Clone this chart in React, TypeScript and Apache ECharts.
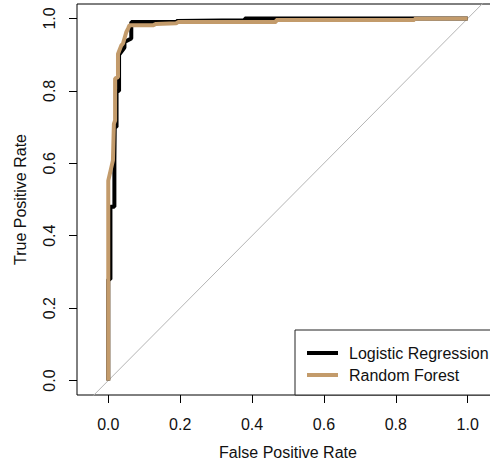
import React, { useEffect, useRef } from "react";
import * as echarts from "echarts";

// Logistic Regression ROC curve (false positive rate, true positive rate)
const fprLR = [0, 0, 0.006, 0.006, 0.017, 0.017, 0.018, 0.023, 0.023, 0.03, 0.03, 0.045, 0.045, 0.064, 0.064, 0.19, 0.19, 0.38, 0.38, 1.0];
const tprLR = [0, 0.28, 0.28, 0.48, 0.48, 0.61, 0.70, 0.70, 0.80, 0.80, 0.90, 0.92, 0.935, 0.945, 0.99, 0.99, 0.993, 0.995, 1.0, 1.0];

// Random Forest ROC curve
const fprRF = [0, 0, 0.013, 0.0156, 0.019, 0.019, 0.027, 0.027, 0.036, 0.041, 0.05, 0.055, 0.059, 0.124, 0.133, 0.189, 0.194, 0.467, 0.467, 0.852, 0.852, 1.0];
const tprRF = [0, 0.552, 0.608, 0.709, 0.718, 0.834, 0.838, 0.902, 0.925, 0.931, 0.962, 0.972, 0.981, 0.981, 0.985, 0.987, 0.99, 0.99, 0.996, 0.996, 0.999, 1.0];

// Chance diagonal (y = x)
const diagX = [-0.2, 1.2];

const tickValues = [0, 0.2, 0.4, 0.6, 0.8, 1.0];
const seriesNames = ["Logistic Regression", "Random Forest"];

const FONT = "'Liberation Sans', Arial, sans-serif";
const TEXT = "#111";

export default function App() {
  const ref = useRef<HTMLDivElement>(null);

  useEffect(() => {
    if (!ref.current) return;
    const chart = echarts.init(ref.current, null, { renderer: "svg" });
    const lr = fprLR.map((x, i) => [x, tprLR[i]]);
    const rf = fprRF.map((x, i) => [x, tprRF[i]]);
    const diag = diagX.map((x) => [x, x]);

    chart.setOption({
      animation: false,
      backgroundColor: "#fff",
      textStyle: { fontFamily: FONT },
      grid: {
        left: 77,
        top: 4,
        width: 422,
        height: 391,
        outerBoundsMode: "none",
        containLabel: false,
        show: true,
        borderColor: "#000",
        borderWidth: 1,
        backgroundColor: "transparent",
      },
      xAxis: {
        type: "value",
        min: -0.087,
        max: 1.087,
        name: "False Positive Rate",
        nameLocation: "middle",
        nameGap: 49,
        nameTextStyle: { fontSize: 16, color: TEXT, fontFamily: FONT },
        axisLine: { show: false, onZero: false },
        axisTick: {
          show: true,
          inside: false,
          length: 8,
          customValues: tickValues,
          lineStyle: { color: "#000", width: 1 },
        },
        axisLabel: {
          customValues: tickValues,
          margin: 21,
          fontSize: 16,
          color: TEXT,
          fontFamily: FONT,
          formatter: (v: number) => v.toFixed(1),
        },
        splitLine: { show: false },
      },
      yAxis: {
        type: "value",
        min: -0.04,
        max: 1.04,
        name: "True Positive Rate",
        nameLocation: "middle",
        nameRotate: 90,
        nameGap: 49,
        nameTextStyle: { fontSize: 16, color: TEXT, fontFamily: FONT },
        axisLine: { show: false, onZero: false },
        axisTick: {
          show: true,
          inside: false,
          length: 8,
          customValues: tickValues,
          lineStyle: { color: "#000", width: 1 },
        },
        axisLabel: {
          customValues: tickValues,
          rotate: 90,
          margin: 20,
          fontSize: 16,
          color: TEXT,
          fontFamily: FONT,
          formatter: (v: number) => v.toFixed(1),
        },
        splitLine: { show: false },
      },
      legend: {
        data: seriesNames,
        orient: "vertical",
        left: 295,
        top: 330,
        padding: [14, 12, 11, 12],
        itemGap: 4,
        itemWidth: 31,
        itemHeight: 4,
        icon: "rect",
        borderColor: "#222",
        borderWidth: 1,
        borderRadius: 0,
        backgroundColor: "#fff",
        textStyle: {
          fontSize: 16,
          lineHeight: 18,
          height: 18,
          color: TEXT,
          fontFamily: FONT,
          padding: [0, 0, 0, 6],
        },
      },
      series: [
        {
          name: "diagonal",
          type: "line",
          data: diag,
          symbol: "none",
          silent: true,
          lineStyle: { color: "#b4b4b4", width: 1 },
          z: 1,
        },
        {
          name: seriesNames[0],
          type: "line",
          data: lr,
          symbol: "none",
          color: "#000",
          itemStyle: { color: "#000" },
          lineStyle: { color: "#000", width: 4 },
          z: 2,
        },
        {
          name: seriesNames[1],
          type: "line",
          data: rf,
          symbol: "none",
          color: "#C39B6B",
          itemStyle: { color: "#C39B6B" },
          lineStyle: { color: "#C39B6B", width: 4 },
          z: 3,
        },
      ],
    });
    return () => chart.dispose();
  }, []);

  return (
    <div
      ref={ref}
      style={{ position: "absolute", left: 0, top: 0, width: 490, height: 466, overflow: "hidden" }}
    />
  );
}
